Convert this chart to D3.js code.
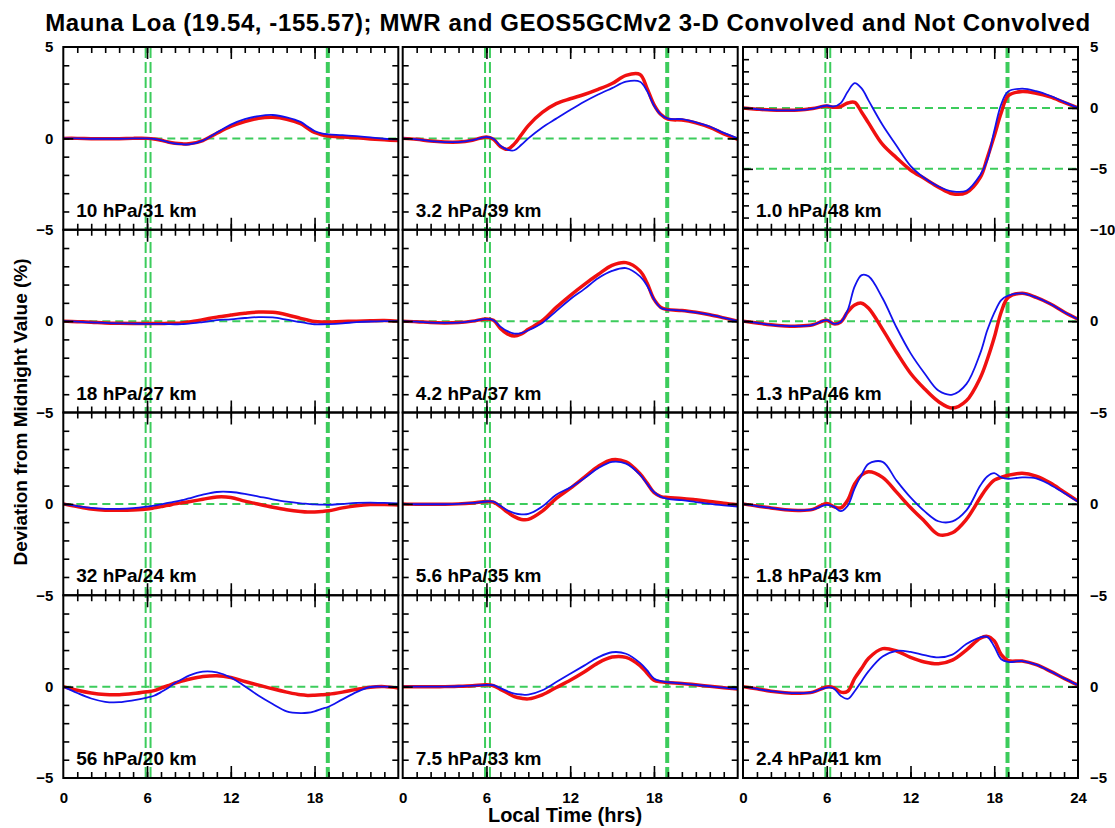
<!DOCTYPE html>
<html>
<head>
<meta charset="utf-8">
<script src="https://cdn.jsdelivr.net/npm/d3@7/dist/d3.min.js"></script>
<style>
  body { margin: 0; background: #fff; }
  svg { font-family: "Liberation Sans", Arial, sans-serif; font-weight: bold; }
</style>
</head>
<body>
<div id="chart"></div>
<script>
// local time (hrs) of every sample
var hours = [0,1,2,3,4,5,6,6.5,7,7.5,8,8.5,9,10,11,12,13,14,15,16,17,17.5,18,18.5,19,20,21,22,23,24];

// red = thick line, blue = thin line (deviation from midnight, %)
var red10  = [0,0,-0.02,-0.02,-0.02,0,0,-0.03,-0.1,-0.2,-0.27,-0.3,-0.3,-0.12,0.28,0.65,0.92,1.1,1.15,1.05,0.8,0.55,0.32,0.2,0.13,0.08,0.03,-0.03,-0.08,-0.12];
var blue10 = [0,0,-0.02,-0.02,-0.02,0,0,-0.03,-0.1,-0.2,-0.28,-0.32,-0.33,-0.12,0.32,0.75,1.05,1.22,1.28,1.15,0.9,0.65,0.4,0.27,0.22,0.18,0.12,0.05,-0.02,-0.05];
var red18  = [0,-0.03,-0.06,-0.1,-0.12,-0.13,-0.13,-0.13,-0.13,-0.12,-0.12,-0.1,-0.05,0.08,0.22,0.33,0.43,0.5,0.48,0.35,0.15,0.06,-0.02,-0.05,-0.05,-0.02,0,0.02,0.03,0];
var blue18 = [0,-0.03,-0.07,-0.1,-0.12,-0.14,-0.15,-0.15,-0.15,-0.16,-0.17,-0.16,-0.14,-0.05,0.05,0.1,0.17,0.22,0.2,0.08,-0.06,-0.12,-0.17,-0.17,-0.16,-0.12,-0.06,-0.02,0,0];
var red32  = [0,-0.15,-0.28,-0.35,-0.35,-0.33,-0.28,-0.22,-0.15,-0.08,0,0.06,0.12,0.25,0.38,0.35,0.15,-0.02,-0.18,-0.32,-0.42,-0.45,-0.44,-0.42,-0.38,-0.22,-0.1,-0.04,-0.04,-0.06];
var blue32 = [0,-0.12,-0.22,-0.27,-0.27,-0.23,-0.15,-0.1,-0.03,0.05,0.12,0.2,0.3,0.5,0.65,0.65,0.55,0.4,0.25,0.12,0.03,0,-0.03,-0.04,-0.05,0,0.05,0.07,0.05,0.02];
var red56  = [0,-0.2,-0.35,-0.43,-0.44,-0.38,-0.28,-0.22,-0.08,0.05,0.2,0.3,0.4,0.55,0.6,0.5,0.28,0.08,-0.12,-0.3,-0.45,-0.48,-0.47,-0.45,-0.42,-0.3,-0.15,-0.03,0,-0.08];
var blue56 = [0,-0.35,-0.65,-0.83,-0.85,-0.75,-0.6,-0.5,-0.3,-0.08,0.2,0.4,0.6,0.82,0.78,0.5,0.02,-0.5,-0.95,-1.35,-1.45,-1.43,-1.35,-1.22,-1.1,-0.7,-0.3,-0.02,0,-0.02];

var red3p2  = [0,-0.05,-0.15,-0.2,-0.2,-0.1,0.08,-0.05,-0.45,-0.6,-0.3,0.2,0.7,1.42,1.9,2.17,2.4,2.68,3.0,3.45,3.5,2.75,1.85,1.3,1.05,1.0,0.85,0.6,0.25,-0.05];
var blue3p2 = [0,-0.05,-0.15,-0.2,-0.2,-0.1,0.08,-0.02,-0.4,-0.62,-0.65,-0.35,0,0.6,1.08,1.55,2.0,2.4,2.75,3.1,3.1,2.6,1.8,1.3,1.08,1.05,0.88,0.65,0.3,0];
var red4p2  = [0,-0.03,-0.08,-0.1,-0.08,0,0.12,0.05,-0.4,-0.7,-0.82,-0.7,-0.45,0.02,0.75,1.4,2.0,2.55,3.05,3.2,2.75,2.1,1.2,0.75,0.63,0.58,0.48,0.35,0.18,0];
var blue4p2 = [0,-0.03,-0.08,-0.1,-0.08,0,0.12,0.05,-0.3,-0.55,-0.68,-0.65,-0.5,-0.1,0.55,1.2,1.75,2.35,2.75,2.9,2.45,1.95,1.2,0.72,0.63,0.58,0.48,0.35,0.18,0];
var red5p6  = [0,-0.02,-0.02,-0.02,0,0.05,0.13,0.1,-0.15,-0.45,-0.7,-0.85,-0.85,-0.4,0.3,0.85,1.45,2.05,2.42,2.3,1.65,1.15,0.62,0.4,0.35,0.3,0.22,0.13,0.03,-0.05];
var blue5p6 = [0,-0.02,-0.02,-0.02,0,0.05,0.13,0.12,-0.1,-0.35,-0.5,-0.57,-0.55,-0.15,0.5,0.9,1.4,1.95,2.3,2.2,1.6,1.1,0.65,0.38,0.27,0.2,0.1,0,-0.08,-0.15];
var red7p5  = [0,0,0,0,0.02,0.05,0.1,0.05,-0.15,-0.35,-0.55,-0.64,-0.67,-0.45,-0.05,0.35,0.8,1.3,1.62,1.6,1.15,0.75,0.35,0.26,0.22,0.17,0.1,0.02,-0.06,-0.13];
var blue7p5 = [0,0,0,0,0.02,0.05,0.1,0.08,-0.08,-0.25,-0.38,-0.43,-0.44,-0.2,0.25,0.7,1.15,1.6,1.88,1.8,1.3,0.9,0.45,0.3,0.24,0.18,0.1,0.02,-0.06,-0.13];

var red1p0  = [0,-0.1,-0.18,-0.2,-0.18,-0.05,0.15,0.05,0.12,0.4,0.45,-0.35,-1.25,-3.0,-4.1,-5.1,-5.8,-6.5,-7.05,-6.95,-5.7,-4.1,-2.3,-0.4,1.0,1.35,1.2,0.9,0.45,0];
var blue1p0 = [0,-0.1,-0.18,-0.2,-0.18,-0.05,0.2,0.12,0.4,1.33,2.03,1.6,0.6,-1.4,-3.1,-4.75,-5.75,-6.45,-6.85,-6.8,-5.5,-4.3,-1.9,0.3,1.35,1.58,1.38,1.0,0.5,0];
var red1p3  = [0,-0.1,-0.2,-0.26,-0.27,-0.2,0.05,-0.15,-0.05,0.5,0.88,0.98,0.7,-0.45,-1.7,-2.85,-3.7,-4.4,-4.76,-4.36,-3.1,-2.1,-0.9,0.5,1.3,1.52,1.3,0.95,0.5,0.1];
var blue1p3 = [0,-0.1,-0.2,-0.26,-0.27,-0.2,0.05,-0.15,-0.05,0.6,1.9,2.52,2.45,1.25,-0.35,-1.75,-2.85,-3.8,-4.02,-3.45,-1.75,-0.5,0.45,1.15,1.4,1.52,1.3,0.95,0.5,0.1];
var red1p8  = [0,-0.12,-0.22,-0.32,-0.36,-0.3,0.02,-0.15,-0.22,0.2,1.1,1.58,1.76,1.45,0.64,-0.2,-0.95,-1.68,-1.58,-0.85,0.35,0.9,1.3,1.45,1.57,1.68,1.52,1.15,0.65,0.15];
var blue1p8 = [0,-0.12,-0.22,-0.32,-0.36,-0.3,-0.05,-0.15,-0.4,-0.1,0.85,1.6,2.2,2.3,1.27,0.35,-0.4,-0.95,-0.96,-0.36,1.0,1.5,1.68,1.45,1.37,1.45,1.4,1.05,0.6,0.12];
var red2p4  = [0,-0.12,-0.25,-0.33,-0.36,-0.3,-0.02,-0.05,-0.3,-0.25,0.45,1.0,1.55,2.08,1.95,1.6,1.35,1.25,1.45,2.0,2.65,2.75,2.5,1.75,1.42,1.4,1.2,0.85,0.45,0.08];
var blue2p4 = [0,-0.12,-0.25,-0.33,-0.36,-0.3,-0.05,-0.1,-0.5,-0.67,-0.25,0.3,0.85,1.65,1.96,1.9,1.72,1.6,1.75,2.33,2.7,2.72,2.2,1.5,1.35,1.4,1.2,0.85,0.45,0.08];

// panels, row by row
var panelLabels = ["10 hPa/31 km", "3.2 hPa/39 km", "1.0 hPa/48 km",
                   "18 hPa/27 km", "4.2 hPa/37 km", "1.3 hPa/46 km",
                   "32 hPa/24 km", "5.6 hPa/35 km", "1.8 hPa/43 km",
                   "56 hPa/20 km", "7.5 hPa/33 km", "2.4 hPa/41 km"];
var redSeries  = [red10, red3p2, red1p0, red18, red4p2, red1p3, red32, red5p6, red1p8, red56, red7p5, red2p4];
var blueSeries = [blue10, blue3p2, blue1p0, blue18, blue4p2, blue1p3, blue32, blue5p6, blue1p8, blue56, blue7p5, blue2p4];
var yDomains = [[-5,5],[-5,5],[-10,5],[-5,5],[-5,5],[-5,5],[-5,5],[-5,5],[-5,5],[-5,5],[-5,5],[-5,5]];
var hLines = [[0],[0],[0,-5],[0],[0],[0],[0],[0],[0],[0],[0],[0]];

// sunrise / sunset markers (hrs)
var sunrise = [5.9, 6.25];
var sunset = 18.95;

var xTicksLeft = [0, 6, 12, 18];
var xTicksRight = [0, 6, 12, 18, 24];

var title = "Mauna Loa (19.54, -155.57); MWR and GEOS5GCMv2 3-D Convolved and Not Convolved";

var width = 1115, height = 828;
var colX = [63.3, 402.7, 743];
var top0 = 47, panelW = 335, panelH = 182.75;
var green = "#3ccc5c";

var svg = d3.select("#chart").append("svg")
    .attr("width", width)
    .attr("height", height);

var x = d3.scaleLinear().domain([0, 24]).range([0, panelW]);

// green sunrise/sunset lines, full height of each column
colX.forEach(function(cx) {
  var g = svg.append("g").attr("transform", "translate(" + cx + ",0)");
  sunrise.forEach(function(t) {
    g.append("line")
      .attr("x1", x(t)).attr("x2", x(t))
      .attr("y1", top0).attr("y2", top0 + 4 * panelH)
      .attr("stroke", green).attr("stroke-width", 2)
      .style("stroke-dasharray", "11,4");
  });
  g.append("line")
    .attr("x1", x(sunset)).attr("x2", x(sunset))
    .attr("y1", top0).attr("y2", top0 + 4 * panelH)
    .attr("stroke", green).attr("stroke-width", 4)
    .style("stroke-dasharray", "11,4");
});

function styleAxis(sel) {
  sel.attr("font-family", null).attr("font-size", 15).attr("font-weight", "bold");
  sel.select(".domain").remove();
  sel.selectAll("line").attr("stroke", "#000").attr("stroke-width", 1.6);
}

panelLabels.forEach(function(label, i) {
  var col = i % 3, row = Math.floor(i / 3);
  var g = svg.append("g")
    .attr("transform", "translate(" + colX[col] + "," + (top0 + row * panelH) + ")");

  var y = d3.scaleLinear().domain(yDomains[i]).range([panelH, 0]);

  hLines[i].forEach(function(v) {
    g.append("line")
      .attr("x1", 0).attr("x2", panelW)
      .attr("y1", y(v)).attr("y2", y(v))
      .attr("stroke", green).attr("stroke-width", 2)
      .style("stroke-dasharray", "8,5");
  });

  var line = d3.line()
    .x(function(d, j) { return x(hours[j]); })
    .y(function(d) { return y(d); })
    .curve(d3.curveCatmullRom.alpha(0.5));

  g.append("path")
    .datum(redSeries[i])
    .attr("d", line)
    .attr("fill", "none")
    .attr("stroke", "#f01010")
    .attr("stroke-width", 3.5)
    .attr("stroke-linejoin", "round");

  g.append("path")
    .datum(blueSeries[i])
    .attr("d", line)
    .attr("fill", "none")
    .attr("stroke", "#1212ee")
    .attr("stroke-width", 1.8)
    .attr("stroke-linejoin", "round");

  // inward ticks, minor every hour / unit, longer at 6,12,18 and 0,-5
  var minorX = d3.range(1, 24);
  var majorX = [6, 12, 18];
  g.append("g").attr("transform", "translate(0," + panelH + ")")
    .call(d3.axisTop(x).tickValues(minorX).tickSize(6).tickFormat("")).call(styleAxis);
  g.append("g").attr("transform", "translate(0," + panelH + ")")
    .call(d3.axisTop(x).tickValues(majorX).tickSize(12).tickFormat("")).call(styleAxis);
  g.append("g")
    .call(d3.axisBottom(x).tickValues(minorX).tickSize(6).tickFormat("")).call(styleAxis);
  g.append("g")
    .call(d3.axisBottom(x).tickValues(majorX).tickSize(12).tickFormat("")).call(styleAxis);

  var d0 = yDomains[i][0], d1 = yDomains[i][1];
  var minorY = d3.range(d0 + 1, d1);
  var majorY = minorY.filter(function(v) { return v % 5 === 0; });
  g.append("g")
    .call(d3.axisRight(y).tickValues(minorY).tickSize(6).tickFormat("")).call(styleAxis);
  g.append("g")
    .call(d3.axisRight(y).tickValues(majorY).tickSize(10).tickFormat("")).call(styleAxis);
  g.append("g").attr("transform", "translate(" + panelW + ",0)")
    .call(d3.axisLeft(y).tickValues(minorY).tickSize(6).tickFormat("")).call(styleAxis);
  g.append("g").attr("transform", "translate(" + panelW + ",0)")
    .call(d3.axisLeft(y).tickValues(majorY).tickSize(10).tickFormat("")).call(styleAxis);

  g.append("rect")
    .attr("width", panelW).attr("height", panelH)
    .attr("fill", "none").attr("stroke", "#000").attr("stroke-width", 2);

  g.append("text")
    .attr("x", 13).attr("y", panelH - 13)
    .attr("font-size", 19)
    .text(label);

  // tick labels
  var yTickVals = row === 0 ? [d1].concat(majorY).concat([d0]) : majorY.concat([d0]);
  if (col === 0) {
    g.append("g")
      .call(d3.axisLeft(y).tickValues(yTickVals).tickSize(0).tickPadding(10).tickFormat(d3.format("d")))
      .call(styleAxis);
  }
  if (col === 2) {
    g.append("g").attr("transform", "translate(" + panelW + ",0)")
      .call(d3.axisRight(y).tickValues(yTickVals).tickSize(0).tickPadding(12).tickFormat(d3.format("d")))
      .call(styleAxis);
  }
  if (row === 3) {
    g.append("g").attr("transform", "translate(0," + panelH + ")")
      .call(d3.axisBottom(x).tickValues(col === 2 ? xTicksRight : xTicksLeft).tickSize(0).tickPadding(14))
      .call(styleAxis);
  }
});

svg.append("text")
  .attr("x", 568).attr("y", 31)
  .attr("text-anchor", "middle")
  .attr("font-size", 24)
  .attr("letter-spacing", 0.6)
  .text(title);

svg.append("text")
  .attr("x", 565).attr("y", 822)
  .attr("text-anchor", "middle")
  .attr("font-size", 20)
  .text("Local Time (hrs)");

svg.append("text")
  .attr("transform", "translate(27,412) rotate(-90)")
  .attr("text-anchor", "middle")
  .attr("font-size", 19)
  .text("Deviation from Midnight Value (%)");
</script>
</body>
</html>
